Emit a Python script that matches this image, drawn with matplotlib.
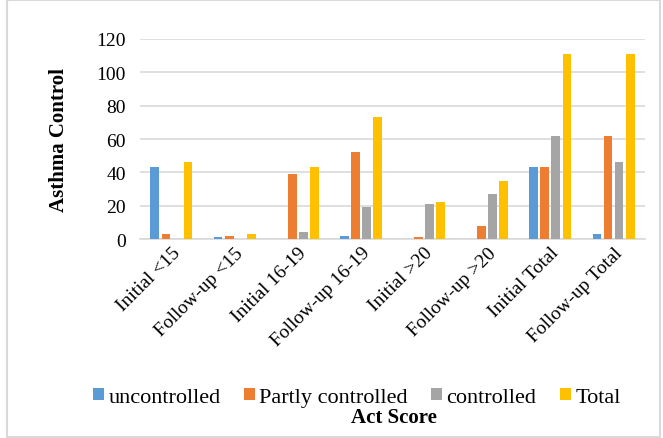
import matplotlib.pyplot as plt
import numpy as np
from matplotlib.patches import Rectangle

categories = ['Initial <15', 'Follow-up <15', 'Initial 16-19', 'Follow-up 16-19',
              'Initial >20', 'Follow-up >20', 'Initial Total', 'Follow-up Total']
uncontrolled = [43, 1, 0, 2, 0, 0, 43, 3]
partly = [3, 2, 39, 52, 1, 8, 43, 62]
controlled = [0, 0, 4, 19, 21, 27, 62, 46]
total = [46, 3, 43, 73, 22, 35, 111, 111]

series = [('uncontrolled', uncontrolled, '#5b9bd5'),
          ('Partly controlled', partly, '#ed7d31'),
          ('controlled', controlled, '#a5a5a5'),
          ('Total', total, '#ffc000')]

SERIF = ['Liberation Serif', 'DejaVu Serif']
plt.rcParams['font.family'] = SERIF

fig = plt.figure(figsize=(6.63, 4.39), dpi=100)
ax = fig.add_axes([0.211, 0.453, 0.762, 0.456])

x = np.arange(len(categories))
w = 0.14
step = 0.175
for i, (name, vals, col) in enumerate(series):
    ax.bar(x + (i - 1.5) * step, vals, w, color=col, label=name, zorder=3)

ax.set_xlim(-0.5, len(categories) - 0.5)
ax.set_ylim(0, 120)
ax.set_yticks(range(0, 121, 20))
ax.yaxis.grid(True, color='#d9d9d9', lw=1.2, zorder=0)
for s in ['top', 'right', 'left']:
    ax.spines[s].set_visible(False)
ax.spines['bottom'].set_color('#d9d9d9')
ax.spines['bottom'].set_linewidth(1.2)
ax.tick_params(axis='both', length=0, labelsize=14, colors='black')
ax.tick_params(axis='y', pad=10)
ax.set_xticks(x)
ax.set_xticklabels(categories, rotation=45, ha='right', rotation_mode='anchor')
ax.set_ylabel('Asthma Control', fontsize=15, fontweight='bold', labelpad=20)

fig.legend(loc='center', bbox_to_anchor=(0.538, 0.093), ncol=4, frameon=False,
           prop={'family': SERIF, 'size': 16},
           handlelength=0.5, handleheight=0.5, handletextpad=0.2,
           columnspacing=1.05, borderaxespad=0)
fig.text(0.594, 0.047, 'Act Score', ha='center', va='center',
         fontsize=15, fontweight='bold')

fig.patches.append(Rectangle((0.011, 0.003), 0.985, 0.994, transform=fig.transFigure,
                             fill=False, edgecolor='#d9d9d9', lw=1.5))

fig.savefig('out.png', dpi=100)
